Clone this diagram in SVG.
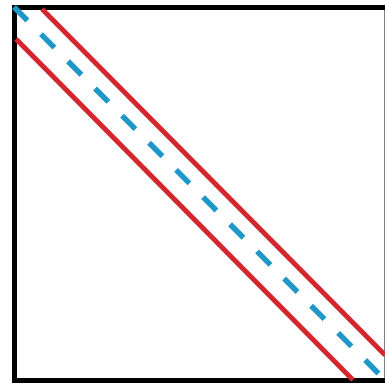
<svg xmlns="http://www.w3.org/2000/svg" width="385" height="385" viewBox="0 0 385 385">
  <style>
    .frame { fill: none; stroke: #000; stroke-width: 5; }
    .red { stroke: #d3272d; stroke-width: 5; fill: none; }
    .blue { stroke: #1f97c8; stroke-width: 5.5; fill: none; stroke-dasharray: 19 19.3; }
  </style>
  <rect width="385" height="385" fill="#fff"/>
  <g id="frame">
    <rect class="frame" x="14.5" y="7.5" width="372.5" height="373"/>
  </g>
  <g id="connectors">
    <line class="red" x1="42" y1="9" x2="385" y2="355"/>
    <line class="red" x1="16" y1="39" x2="353" y2="380"/>
    <line class="blue" x1="14" y1="7" x2="386" y2="381"/>
  </g>
</svg>
